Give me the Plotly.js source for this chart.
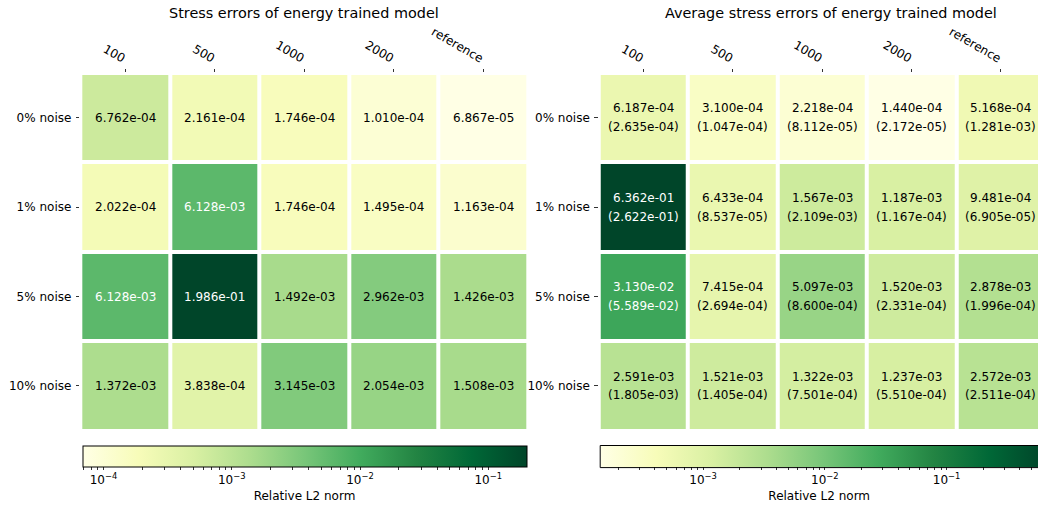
<!DOCTYPE html>
<html>
<head>
<meta charset="utf-8">
<script src="https://cdn.plot.ly/plotly-3.0.1.min.js"></script>
<style>html,body{margin:0;padding:0;background:#fff;}#chart{width:1038px;height:510px;}</style>
</head>
<body>
<div id="chart"></div>
<script>
// ---- data ----
const columns = ["100", "500", "1000", "2000", "reference"];
const rows = ["0% noise", "1% noise", "5% noise", "10% noise"];

// Left: stress errors of energy trained model
const stressErrors = [
  [6.762e-04, 2.161e-04, 1.746e-04, 1.010e-04, 6.867e-05],
  [2.022e-04, 6.128e-03, 1.746e-04, 1.495e-04, 1.163e-04],
  [6.128e-03, 1.986e-01, 1.492e-03, 2.962e-03, 1.426e-03],
  [1.372e-03, 3.838e-04, 3.145e-03, 2.054e-03, 1.508e-03]
];
// Right: average stress errors (mean) and their spread (in brackets)
const avgStressErrors = [
  [6.187e-04, 3.100e-04, 2.218e-04, 1.440e-04, 5.168e-04],
  [6.362e-01, 6.433e-04, 1.567e-03, 1.187e-03, 9.481e-04],
  [3.130e-02, 7.415e-04, 5.097e-03, 1.520e-03, 2.878e-03],
  [2.591e-03, 1.521e-03, 1.322e-03, 1.237e-03, 2.572e-03]
];
const avgStressStd = [
  [2.635e-04, 1.047e-04, 8.112e-05, 2.172e-05, 1.281e-03],
  [2.622e-01, 8.537e-05, 2.109e-03, 1.167e-04, 6.905e-05],
  [5.589e-02, 2.694e-04, 8.600e-04, 2.331e-04, 1.996e-04],
  [1.805e-03, 1.405e-04, 7.501e-04, 5.510e-04, 2.511e-04]
];
const leftTitle = "Stress errors of energy trained model";
const rightTitle = "Average stress errors of energy trained model";
const colorbarLabel = "Relative L2 norm";

// ---- helpers ----
const YlGnHex = ["#ffffe5", "#f7fcb9", "#d9f0a3", "#addd8e", "#78c679", "#41ab5d", "#238443", "#006837", "#004529"];
const YlGn = YlGnHex.map((c, i) => [i / (YlGnHex.length - 1), c]);
const FONT = "DejaVu Sans, Liberation Sans, sans-serif";
const lg = m => m.map(r => r.map(v => Math.log10(v)));
const fmt = v => v.toExponential(3).replace(/e([+-])(\d)$/, "e$10$2");
const sup = n => "10<sup>\u2212" + Math.abs(n) + "</sup>";

function hexToRgb(h) { return [1, 3, 5].map(k => parseInt(h.substr(k, 2), 16)); }
function colorAt(f) {
  const n = YlGnHex.length - 1, p = Math.min(Math.max(f, 0), 1) * n;
  const i = Math.min(Math.floor(p), n - 1), t = p - i;
  const a = hexToRgb(YlGnHex[i]), b = hexToRgb(YlGnHex[i + 1]);
  const c = a.map((v, k) => Math.round(v + (b[k] - v) * t));
  return "rgb(" + c.join(",") + ")";
}
// colorscale covering only fraction [0, f] of YlGn
function truncatedScale(f) {
  const out = [];
  YlGn.forEach(([p, c]) => { if (p < f) out.push([p / f, c]); });
  out.push([1, colorAt(f)]);
  return out;
}

function cbTicks(zmin, zmax) {
  const vals = [], txt = [];
  for (let k = -6; k <= 1; k++) {
    for (let m = 1; m <= 9; m++) {
      const l = Math.log10(m * Math.pow(10, k));
      if (l >= zmin - 1e-9 && l <= zmax + 1e-9) {
        vals.push(l);
        txt.push(m === 1 ? sup(k) : "");
      }
    }
  }
  return {vals, txt};
}

const zL = lg(stressErrors), zR = lg(avgStressErrors);
const flat = a => a.reduce((p, c) => p.concat(c), []);
const zminL = Math.min(...flat(zL)), zmaxL = Math.max(...flat(zL));
const zminR = Math.min(...flat(zR)), zmaxR = Math.max(...flat(zR));
const colIdx = columns.map((c, j) => j);
const rowIdx = rows.map((r, i) => i);

// Right colorbar is cut by the figure's right edge (as in the reference)
const CB_LEN = 444, cbRStart = 600.7, FIGW = 1038, FIGH = 510;
const fVis = (FIGW - cbRStart) / CB_LEN;
const zEndR = zminR + fVis * (zmaxR - zminR);
const tL = cbTicks(zminL, zmaxL), tR = cbTicks(zminR, zEndR);

function cbar(x0px, lenpx, t, outline) {
  return {
    orientation: "h", lenmode: "pixels", len: lenpx, thickness: 21,
    x: x0px / FIGW, xanchor: "left", y: 1 - 446 / FIGH, yanchor: "top",
    xpad: 0, ypad: 0, outlinewidth: outline ? 1 : 0, outlinecolor: "#000",
    tickmode: "array", tickvals: t.vals, ticktext: t.txt,
    ticks: "outside", ticklen: 3, tickwidth: 0.8, tickcolor: "#000",
    tickfont: {size: 12, color: "#000", family: FONT},
    title: {text: colorbarLabel, side: "bottom", font: {size: 12, color: "#000", family: FONT}}
  };
}

const traces = [
  {
    type: "heatmap", x: colIdx, y: rowIdx, z: zL, zmin: zminL, zmax: zmaxL,
    colorscale: YlGn, xgap: 4, ygap: 4, hoverinfo: "skip",
    xaxis: "x", yaxis: "y", colorbar: cbar(82.5, CB_LEN, tL, true)
  },
  {
    type: "heatmap", x: colIdx, y: rowIdx, z: zR, zmin: zminR, zmax: zmaxR,
    colorscale: YlGn, xgap: 4, ygap: 4, hoverinfo: "skip", showscale: false,
    xaxis: "x2", yaxis: "y2"
  },
  { // invisible copy, only to draw the (edge-clipped) colorbar of the right panel
    type: "heatmap", x: colIdx, y: rowIdx, z: zR, zmin: zminR, zmax: zEndR,
    colorscale: truncatedScale(fVis), opacity: 0, hoverinfo: "skip",
    xaxis: "x2", yaxis: "y2", colorbar: cbar(cbRStart, FIGW - cbRStart, tR, false)
  }
];

const annotations = [];
const midL = (zminL + zmaxL) / 2, midR = (zminR + zmaxR) / 2;
rowIdx.forEach(i => {
  colIdx.forEach(j => {
    annotations.push({
      xref: "x", yref: "y", x: j, y: i, text: fmt(stressErrors[i][j]), showarrow: false,
      font: {size: 12, family: FONT, color: zL[i][j] > midL ? "#ffffff" : "#000000"}
    });
    const col = zR[i][j] > midR ? "#ffffff" : "#000000";
    annotations.push({
      xref: "x2", yref: "y2", x: j, y: i, text: fmt(avgStressErrors[i][j]), showarrow: false,
      yshift: 9.4, font: {size: 12, family: FONT, color: col}
    });
    annotations.push({
      xref: "x2", yref: "y2", x: j, y: i, text: "(" + fmt(avgStressStd[i][j]) + ")", showarrow: false,
      yshift: -9.4, font: {size: 12, family: FONT, color: col}
    });
  });
});
annotations.push({
  xref: "paper", yref: "paper", x: 304.2 / FIGW, y: 1 - 13 / FIGH, xanchor: "center", yanchor: "middle",
  text: leftTitle, showarrow: false, font: {size: 14.4, family: FONT, color: "#000"}
});
annotations.push({
  xref: "paper", yref: "paper", x: 831 / FIGW, y: 1 - 13 / FIGH, xanchor: "center", yanchor: "middle",
  text: rightTitle, showarrow: false, font: {size: 14.4, family: FONT, color: "#000"}
});

// outline of the clipped right colorbar (top, bottom, left edges), just outside the fill
const cbTop = 1 - 445.5 / FIGH, cbBot = 1 - 467.6 / FIGH, cbLeft = (cbRStart - 0.5) / FIGW;
const shapes = [
  {type: "line", layer: "above", xref: "paper", yref: "paper", x0: cbLeft, x1: 1, y0: cbTop, y1: cbTop, line: {color: "#000", width: 1}},
  {type: "line", layer: "above", xref: "paper", yref: "paper", x0: cbLeft, x1: 1, y0: cbBot, y1: cbBot, line: {color: "#000", width: 1}},
  {type: "line", layer: "above", xref: "paper", yref: "paper", x0: cbLeft, x1: cbLeft, y0: cbBot, y1: cbTop, line: {color: "#000", width: 1}}
];

const xcommon = {
  type: "linear", side: "top", ticks: "outside", ticklen: 3.5, tickwidth: 0.8, tickcolor: "#000",
  tickmode: "array", tickvals: colIdx, ticktext: columns,
  tickangle: 30, showgrid: false, zeroline: false, showline: false,
  tickfont: {size: 12, family: FONT, color: "#000"}, fixedrange: true
};
const ycommon = {
  type: "linear", ticks: "outside", ticklen: 3.5, tickwidth: 0.8, tickcolor: "#000",
  tickmode: "array", tickvals: rowIdx, ticktext: rows,
  showgrid: false, zeroline: false, showline: false, range: [3.5, -0.5],
  tickfont: {size: 12, family: FONT, color: "#000"}, fixedrange: true, ticklabelstandoff: 2
};
const ydom = [1 - 430.7 / FIGH, 1 - 73 / FIGH];

const layout = {
  width: FIGW, height: FIGH, margin: {l: 0, r: 0, t: 0, b: 0, autoexpand: false},
  paper_bgcolor: "#fff", plot_bgcolor: "#fff", showlegend: false,
  font: {family: FONT, size: 12, color: "#000"},
  xaxis: Object.assign({}, xcommon, {domain: [80.3 / FIGW, 528 / FIGW], range: [-0.5, 4.5], anchor: "y"}),
  yaxis: Object.assign({}, ycommon, {domain: ydom, anchor: "x"}),
  xaxis2: Object.assign({}, xcommon, {domain: [598.7 / FIGW, 1], range: [-0.5, 4.414], anchor: "y2"}),
  yaxis2: Object.assign({}, ycommon, {domain: ydom, anchor: "x2"}),
  annotations: annotations,
  shapes: shapes
};

Plotly.newPlot("chart", traces, layout, {staticPlot: true, displayModeBar: false});
</script>
</body>
</html>
